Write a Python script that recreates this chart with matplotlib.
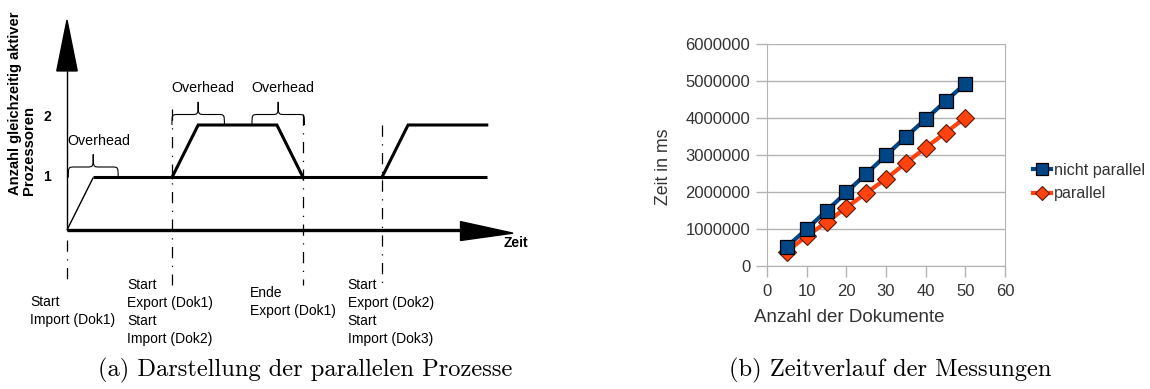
import numpy as np
import matplotlib
matplotlib.use("Agg")
import matplotlib.pyplot as plt
from matplotlib.path import Path
from matplotlib.patches import PathPatch, Polygon

plt.rcParams['font.family'] = ['Liberation Sans', 'DejaVu Sans']

# ---------- data: (a) process diagram (time steps, number of processors) ----------
proc1_t = [0, 1, 16]
proc1_n = [0, 1, 1]
proc2_t = [4, 5, 8, 9]
proc2_n = [1, 2, 2, 1]
proc3_t = [12, 13, 16]
proc3_n = [1, 2, 2]
event_t = [0, 4, 9, 12]
event_labels = ["Start\nImport (Dok1)",
                "Start\nExport (Dok1)\nStart\nImport (Dok2)",
                "Ende\nExport (Dok1)",
                "Start\nExport (Dok2)\nStart\nImport (Dok3)"]
overhead_spans = [(0.05, 1.95, 1), (4.0, 6.0, 2), (7.05, 9.05, 2)]

# ---------- data: (b) measurements ----------
docs = [5, 10, 15, 20, 25, 30, 35, 40, 45, 50]
t_nicht_parallel = [520000, 1000000, 1490000, 1990000, 2490000, 2990000,
                    3490000, 3970000, 4450000, 4930000]
t_parallel = [390000, 810000, 1180000, 1580000, 1970000, 2360000,
              2780000, 3200000, 3600000, 4010000]

W, H = 1150, 389
fig = plt.figure(figsize=(W / 100, H / 100), dpi=100)
fig.patch.set_facecolor('white')


def fx(px):
    return px / W


def fy(py):
    return 1 - py / H


# ================= (a) =================
# one step = 26.25 px, one processor = 52.5 px, origin at pixel (67, 230)
ax = fig.add_axes([fx(67), fy(230), 446 / W, 210 / H])
ax.set_xlim(0, 17)
ax.set_ylim(0, 4)
ax.axis('off')

# process lines
ax.plot(proc1_t[:2], proc1_n[:2], color='black', lw=1.0, clip_on=False, solid_capstyle='butt')
ax.plot(proc1_t[1:], proc1_n[1:], color='black', lw=2.2, clip_on=False, solid_capstyle='butt')
ax.plot(proc2_t, proc2_n, color='black', lw=2.2, clip_on=False, solid_joinstyle='miter')
ax.plot(proc3_t, proc3_n, color='black', lw=2.2, clip_on=False, solid_joinstyle='miter')

# axes with arrows
ax.plot([0, 15.05], [0, 0], color='black', lw=2.4, clip_on=False, solid_capstyle='butt')
ax.add_patch(Polygon([[15.0, 0.16], [17.0, -0.06], [15.0, -0.2]], closed=True,
                     color='black', clip_on=False))
ax.plot([0, 0], [0, 3.05], color='black', lw=1.0, clip_on=False)
ax.add_patch(Polygon([[-0.39, 3.03], [0.0, 4.0], [0.39, 3.03]], closed=True,
                     color='black', clip_on=False))

# dash-dot event markers
dd = (0, (9, 6, 1, 6))
tops = [-0.2, 2.3, 2.2, 2.0]
for t, top in zip(event_t, tops):
    ax.plot([t, t], [top, -1.05], color='black', lw=0.9, ls=dd, clip_on=False)


# braces
def brace(x0, x1, yb, h=0.44):
    yt = yb + h
    ym = yb + 0.2
    xc = (x0 + x1) / 2
    r = 0.25
    verts = [(x0, yb), (x0, ym), (x0, ym), (x0 + r, ym),
             (xc - r, ym), (xc, ym), (xc, ym), (xc, yt),
             (xc, ym), (xc, ym), (xc + r, ym),
             (x1 - r, ym), (x1, ym), (x1, ym), (x1, yb)]
    codes = [Path.MOVETO, Path.CURVE4, Path.CURVE4, Path.CURVE4,
             Path.LINETO, Path.CURVE4, Path.CURVE4, Path.CURVE4,
             Path.CURVE4, Path.CURVE4, Path.CURVE4,
             Path.LINETO, Path.CURVE4, Path.CURVE4, Path.CURVE4]
    ax.add_patch(PathPatch(Path(verts, codes), fill=False, lw=0.8,
                           color='black', clip_on=False))
    ax.text(x0 - 0.02, yt + 0.13, "Overhead", fontsize=10.3, ha='left', va='bottom')


for x0, x1, lvl in overhead_spans:
    brace(x0, x1, lvl)

# axis texts
ax.text(-0.76, 1.0, "1", fontsize=10, fontweight='bold', ha='center', va='center')
ax.text(-0.76, 2.15, "2", fontsize=10, fontweight='bold', ha='center', va='center')
ax.text(-1.71, 0.67, "Anzahl gleichzeitig aktiver\nProzessoren", fontsize=10.6,
        fontweight='bold', rotation=90, ha='center', va='bottom',
        multialignment='left', linespacing=0.95)
ax.text(17.1, -0.25, "Zeit", fontsize=10, fontweight='bold', ha='center', va='center')

label_pos = [(-1.41, -1.24), (2.29, -0.91), (6.97, -1.07), (10.7, -0.91)]
for (lx, ly), lab in zip(label_pos, event_labels):
    ax.text(lx, ly, lab, fontsize=10, ha='left', va='top', linespacing=1.38)

# ================= (b) =================
bx = fig.add_axes([fx(767), fy(266), (1005 - 767) / W, (266 - 44) / H])
bx.plot(docs, t_parallel, color='#ff420e', lw=3, marker='D', markersize=9,
        markerfacecolor='#ff420e', markeredgecolor='#5a1a06', markeredgewidth=0.8,
        label='parallel', zorder=3, clip_on=False)
bx.plot(docs, t_nicht_parallel, color='#004586', lw=3, marker='s', markersize=10.5,
        markerfacecolor='#004586', markeredgecolor='#000000', markeredgewidth=0.9,
        label='nicht parallel', zorder=4, clip_on=False)
bx.set_xlim(0, 60)
bx.set_ylim(0, 6000000)
bx.set_xticks(range(0, 61, 10))
bx.set_yticks(range(0, 6000001, 1000000))
bx.set_yticklabels([str(v) for v in range(0, 6000001, 1000000)])
bx.grid(axis='y', color='#b3b3b3', lw=1)
bx.set_axisbelow(True)
for s in bx.spines.values():
    s.set_color('#b3b3b3')
bx.spines['top'].set_visible(False)
bx.tick_params(colors='#b3b3b3', labelcolor='#333333', labelsize=12, length=8, width=1)
bx.tick_params(axis='y', pad=4)
bx.tick_params(axis='x', pad=5)
fig.text(fx(664), fy(167), "Zeit in ms", rotation=90, fontsize=12.8, color='#333333',
         ha='center', va='center')
fig.text(fx(849), fy(318), "Anzahl der Dokumente", fontsize=13.5, color='#333333',
         ha='center', va='center')
h, l = bx.get_legend_handles_labels()
fig.legend(h[::-1], l[::-1], loc='center left', bbox_to_anchor=(fx(1019), fy(182)),
           frameon=False, fontsize=11.6, handlelength=1.1, handletextpad=0.15,
           labelspacing=0.55, markerscale=0.8, labelcolor='#333333')

# ---------- captions ----------
fig.text(fx(305), fy(370), "(a) Darstellung der parallelen Prozesse", fontsize=17.6,
         family='cmr10', ha='center', va='center')
fig.text(fx(890), fy(370), "(b) Zeitverlauf der Messungen", fontsize=17.6,
         family='cmr10', ha='center', va='center')

fig.savefig("out.png", dpi=100, facecolor='white')
